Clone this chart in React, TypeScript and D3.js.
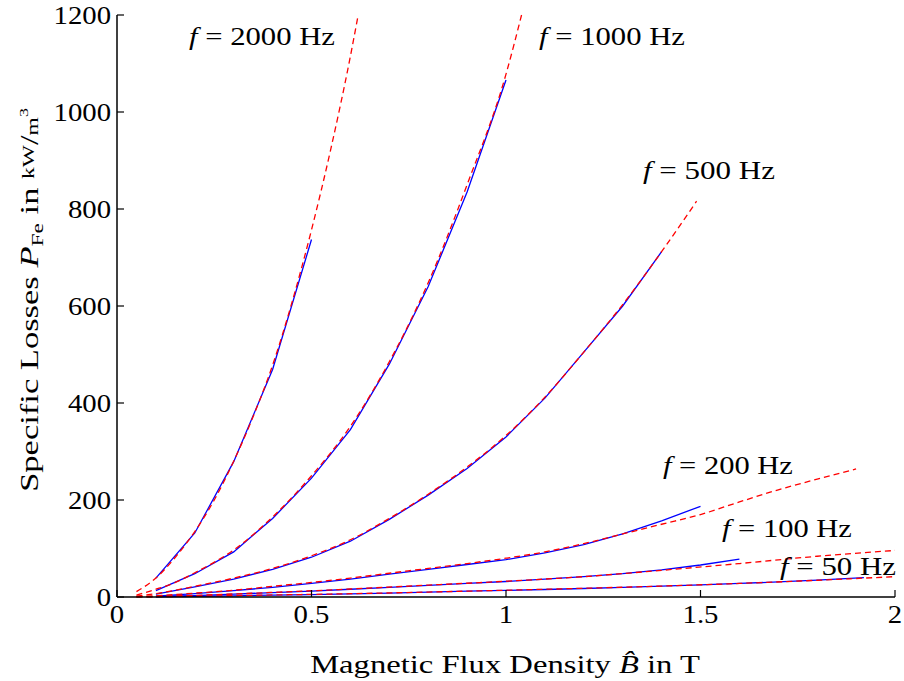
import React, { useLayoutEffect, useRef, useState } from "react";
import * as d3 from "d3";

// Measured (blue, solid) data: B in T, P in kW/m^3
const measB2000 = [0.1, 0.2, 0.3, 0.4, 0.5];
const measP2000 = [39, 132, 279, 469, 737];
const measB1000 = [0.1, 0.2, 0.3, 0.4, 0.5, 0.6, 0.7, 0.8, 0.9, 1.0];
const measP1000 = [13, 48, 93, 162, 245, 345, 480, 640, 835, 1066];
const measB500 = [0.1, 0.2, 0.3, 0.4, 0.5, 0.6, 0.7, 0.8, 0.9, 1.0, 1.1, 1.2, 1.3, 1.4];
const measP500 = [6, 21, 37, 57, 82, 115, 160, 210, 265, 330, 410, 505, 600, 712];
const measB200 = [0.1, 0.2, 0.3, 0.4, 0.5, 0.6, 0.7, 0.8, 0.9, 1.0, 1.1, 1.2, 1.3, 1.4, 1.5];
const measP200 = [2, 7, 13, 20, 28, 37, 47, 57, 67, 77, 91, 108, 130, 157, 187];
const measB100 = [0.1, 0.2, 0.3, 0.4, 0.5, 0.6, 0.7, 0.8, 0.9, 1.0, 1.1, 1.2, 1.3, 1.4, 1.5, 1.6];
const measP100 = [1, 3, 6, 9, 12, 16, 20, 24, 28, 32, 37, 42, 48, 56, 66, 78];
const measB50 = [0.1, 0.2, 0.3, 0.4, 0.5, 0.6, 0.7, 0.8, 0.9, 1.0, 1.1, 1.2, 1.3, 1.4, 1.5, 1.6, 1.7, 1.8, 1.92];
const measP50 = [0.5, 1.5, 2.5, 4, 5, 6.5, 8, 10, 12, 13.5, 15.5, 17.5, 20, 22.5, 25, 28, 31, 35, 40];

// Fitted model (red, dashed)
const fitB2000 = [0.05, 0.1, 0.15, 0.2, 0.25, 0.3, 0.35, 0.4, 0.45, 0.5, 0.55, 0.6, 0.62];
const fitP2000 = [11, 39, 82, 135, 200, 280, 372, 478, 608, 757, 925, 1115, 1200];
const fitB1000 = [0.05, 0.1, 0.15, 0.2, 0.3, 0.4, 0.5, 0.6, 0.7, 0.8, 0.9, 1.0, 1.04];
const fitP1000 = [4, 16, 30, 50, 97, 165, 250, 352, 485, 648, 850, 1078, 1200];
const fitB500 = [0.05, 0.1, 0.2, 0.3, 0.4, 0.5, 0.6, 0.7, 0.8, 0.9, 1.0, 1.1, 1.2, 1.3, 1.4, 1.49];
const fitP500 = [2, 7, 22, 39, 59, 85, 118, 162, 212, 268, 333, 412, 505, 603, 712, 816];
const fitB200 = [0.05, 0.1, 0.2, 0.3, 0.4, 0.5, 0.6, 0.7, 0.8, 0.9, 1.0, 1.1, 1.2, 1.3, 1.4, 1.5, 1.6, 1.7, 1.8, 1.9];
const fitP200 = [0.6, 2.5, 8, 14, 22, 30, 39, 49, 59, 69, 80, 93, 110, 130, 150, 170, 196, 221, 243, 264];
const fitB100 = [0.05, 0.1, 0.2, 0.4, 0.6, 0.8, 1.0, 1.2, 1.4, 1.6, 1.8, 2.0];
const fitP100 = [0.3, 1.2, 3.4, 9.5, 16.5, 24.5, 32.5, 42, 55, 69, 84, 96];
const fitB50 = [0.05, 0.1, 0.2, 0.4, 0.6, 0.8, 1.0, 1.2, 1.4, 1.6, 1.8, 2.0];
const fitP50 = [0.2, 0.6, 1.6, 4.2, 6.8, 10.2, 14, 18, 22.5, 28, 34.5, 42];

const xTicks = [0, 0.5, 1, 1.5, 2];
const yTicks = [0, 200, 400, 600, 800, 1000, 1200];

const freqLabels = ["2000", "1000", "500", "200", "100", "50"];
const labelPos: [number, number, number][] = [
  [189, 45, 146],
  [539, 45, 146],
  [643, 179, 132],
  [663, 474, 130],
  [722, 537, 130],
  [780, 575, 116],
];

const W = 904;
const H = 681;
const FONT = "'Liberation Serif', 'DejaVu Serif', serif";

type FitProps = {
  x: number;
  y: number;
  w?: number;
  sx?: number;
  anchor?: "start" | "middle" | "end";
  rot?: number;
  size?: number;
  children: React.ReactNode;
};

function FitText({ x, y, w, sx: fixedSx, anchor = "start", rot = 0, size = 25, children }: FitProps) {
  const ref = useRef<SVGTextElement>(null);
  const [sx, setSx] = useState(fixedSx ?? 1);
  useLayoutEffect(() => {
    if (w && ref.current) {
      const bw = ref.current.getBBox().width;
      if (bw > 0) setSx(w / bw);
    }
  }, [w]);
  return (
    <text
      ref={ref}
      transform={`translate(${x},${y}) rotate(${rot}) scale(${fixedSx ?? sx},1)`}
      textAnchor={anchor}
      fontSize={size}
      style={{ fontFamily: FONT }}
      fill="#000"
    >
      {children}
    </text>
  );
}

export default function App() {
  const x = d3.scaleLinear().domain([0, 2]).range([117, 895]);
  const y = d3.scaleLinear().domain([0, 1200]).range([597, 15]);
  const line = d3
    .line<[number, number]>()
    .x((d) => x(d[0]))
    .y((d) => y(d[1]));
  const smooth = d3
    .line<[number, number]>()
    .x((d) => x(d[0]))
    .y((d) => y(d[1]))
    .curve(d3.curveMonotoneX);

  const meas: [number[], number[]][] = [
    [measB2000, measP2000],
    [measB1000, measP1000],
    [measB500, measP500],
    [measB200, measP200],
    [measB100, measP100],
    [measB50, measP50],
  ];
  const fits: [number[], number[]][] = [
    [fitB2000, fitP2000],
    [fitB1000, fitP1000],
    [fitB500, fitP500],
    [fitB200, fitP200],
    [fitB100, fitP100],
    [fitB50, fitP50],
  ];
  const zip = (a: number[], b: number[]) => a.map((v, i) => [v, b[i]] as [number, number]);

  return (
    <svg width={W} height={H} style={{ position: "absolute", left: 0, top: 0, background: "#fff" }}>
      <rect x={0} y={0} width={W} height={H} fill="#fff" />
      {meas.map(([b, p], i) => (
        <path key={"m" + i} d={line(zip(b, p)) || ""} fill="none" stroke="#0000ff" strokeWidth={1.3} />
      ))}
      {fits.map(([b, p], i) => (
        <path
          key={"f" + i}
          d={smooth(zip(b, p)) || ""}
          fill="none"
          stroke="#ff0000"
          strokeWidth={1.3}
          strokeDasharray="6,4"
        />
      ))}
      {/* axes */}
      <line x1={x(0)} x2={x(2)} y1={y(0)} y2={y(0)} stroke="#000" strokeWidth={1.5} />
      <line x1={x(0)} x2={x(0)} y1={y(0)} y2={y(1200)} stroke="#000" strokeWidth={1.5} />
      {xTicks.map((t) => (
        <g key={"xt" + t}>
          <line x1={x(t)} x2={x(t)} y1={y(0)} y2={y(0) - 7} stroke="#000" strokeWidth={1.2} />
          <FitText x={x(t)} y={y(0) + 26} anchor="middle" size={25} sx={1.15}>
            {String(t)}
          </FitText>
        </g>
      ))}
      {yTicks.map((t) => (
        <g key={"yt" + t}>
          <line x1={x(0)} x2={x(0) + 7} y1={y(t)} y2={y(t)} stroke="#000" strokeWidth={1.2} />
          <FitText x={x(0) - 6} y={y(t) + 9} anchor="end" size={25} sx={1.15}>
            {String(t)}
          </FitText>
        </g>
      ))}
      {/* curve labels */}
      {freqLabels.map((f, i) => (
        <FitText key={"l" + f} x={labelPos[i][0]} y={labelPos[i][1]} w={labelPos[i][2]} size={25}>
          <tspan fontStyle="italic">f</tspan>
          <tspan> = {f} Hz</tspan>
        </FitText>
      ))}
      {/* x axis label */}
      <FitText x={505} y={673} w={390} anchor="middle" size={25}>
        Magnetic Flux Density <tspan fontStyle="italic">B̂</tspan> in T
      </FitText>
      {/* y axis label */}
      <FitText x={38} y={300} w={384} anchor="middle" rot={-90} size={25}>
        Specific Losses <tspan fontStyle="italic">P</tspan>
        <tspan fontSize={17} dy={5}>Fe</tspan>
        <tspan dy={-5}> in </tspan>
        <tspan fontSize={17} dy={-4}>kW</tspan>
        <tspan dy={4}>/</tspan>
        <tspan fontSize={17}>m</tspan>
        <tspan fontSize={13} dy={-10}>3</tspan>
      </FitText>
    </svg>
  );
}
